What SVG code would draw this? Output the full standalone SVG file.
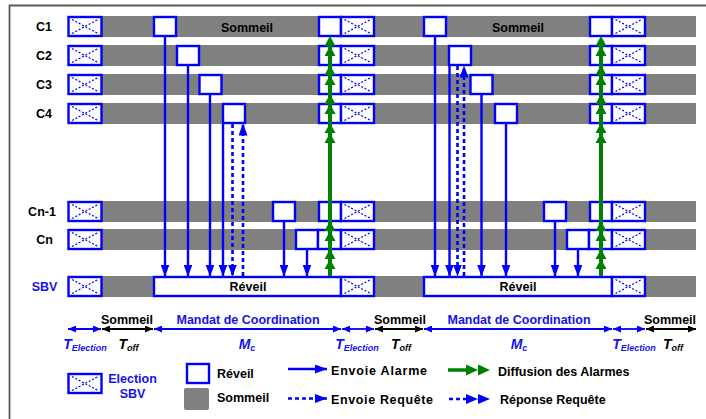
<svg xmlns="http://www.w3.org/2000/svg" xmlns:xlink="http://www.w3.org/1999/xlink" width="706" height="419" viewBox="0 0 706 419">
<style>
.band{fill:#808080}
.wk{fill:#fff;stroke:#0000ff;stroke-width:2.4}
.xl{fill:none;stroke:#0000ff;stroke-width:1.2;stroke-dasharray:2 1.8}
.t{font-family:"Liberation Sans",Arial,sans-serif;font-weight:bold;font-size:12.5px;fill:#000}
.tb{fill:#1414e6}
.ti{font-style:italic}
.al{stroke:#0000ff;stroke-width:2.4;fill:none}
.ad{stroke:#0000ff;stroke-width:2.6;fill:none;stroke-dasharray:4 3}
.gl{stroke:#008000;stroke-width:4;fill:none}
.tlb{stroke:#0000ff;stroke-width:1.8;fill:none}
.tlk{stroke:#000;stroke-width:1.8;fill:none}
</style>
<defs>
<marker id="ab" markerUnits="userSpaceOnUse" markerWidth="12" markerHeight="9" refX="12" refY="4.5" orient="auto" viewBox="0 0 12 9"><path d="M0,0 L12,4.5 L0,9 z" fill="#0000ff"/></marker>
<marker id="tb" markerUnits="userSpaceOnUse" markerWidth="8" markerHeight="7" refX="8" refY="3.5" orient="auto-start-reverse" viewBox="0 0 8 7"><path d="M0,0 L8,3.5 L0,7 z" fill="#0000ff"/></marker>
<marker id="tk" markerUnits="userSpaceOnUse" markerWidth="8" markerHeight="7" refX="8" refY="3.5" orient="auto-start-reverse" viewBox="0 0 8 7"><path d="M0,0 L8,3.5 L0,7 z" fill="#000"/></marker>
<g id="xb"><rect x="0" y="0" width="33" height="19" class="wk"/><path d="M3.5,2.5 L29.5,16.5 M3.5,16.5 L29.5,2.5" class="xl"/></g>
<g id="gh" fill="#008000"><path d="M-5.5,10 L0,0 L5.5,10 z M-5.5,20 L0,10 L5.5,20 z"/></g>
</defs>

<path d="M9.5,419 V5.5 H706" fill="none" stroke="#5a5a5a" stroke-width="1.8"/>

<g id="row-C1">
<text class="t" x="44" y="31" text-anchor="middle">C1</text>
<rect class="band" x="68" y="16" width="628" height="21"/>
<use xlink:href="#xb" x="68.5" y="17"/>
<rect class="wk" x="154" y="17" width="22" height="19"/>
<rect class="wk" x="319" y="17" width="22" height="19"/>
<use xlink:href="#xb" x="341" y="17"/>
<rect class="wk" x="424" y="17" width="22" height="19"/>
<rect class="wk" x="590" y="17" width="22" height="19"/>
<use xlink:href="#xb" x="612" y="17"/>
<text class="t" x="247" y="31.5" text-anchor="middle">Sommeil</text>
<text class="t" x="518" y="31.5" text-anchor="middle">Sommeil</text>
</g>

<g id="row-C2">
<text class="t" x="44" y="60" text-anchor="middle">C2</text>
<rect class="band" x="68" y="45" width="628" height="21"/>
<use xlink:href="#xb" x="68.5" y="46"/>
<rect class="wk" x="177" y="46" width="22" height="19"/>
<rect class="wk" x="319" y="46" width="22" height="19"/>
<use xlink:href="#xb" x="341" y="46"/>
<rect class="wk" x="449" y="46" width="22" height="19"/>
<rect class="wk" x="590" y="46" width="22" height="19"/>
<use xlink:href="#xb" x="612" y="46"/>
</g>

<g id="row-C3">
<text class="t" x="44" y="89" text-anchor="middle">C3</text>
<rect class="band" x="68" y="74" width="628" height="21"/>
<use xlink:href="#xb" x="68.5" y="75"/>
<rect class="wk" x="199.5" y="75" width="22" height="19"/>
<rect class="wk" x="319" y="75" width="22" height="19"/>
<use xlink:href="#xb" x="341" y="75"/>
<rect class="wk" x="470.5" y="75" width="22" height="19"/>
<rect class="wk" x="590" y="75" width="22" height="19"/>
<use xlink:href="#xb" x="612" y="75"/>
</g>

<g id="row-C4">
<text class="t" x="44" y="118" text-anchor="middle">C4</text>
<rect class="band" x="68" y="103" width="628" height="21"/>
<use xlink:href="#xb" x="68.5" y="104"/>
<rect class="wk" x="223" y="104" width="22" height="19"/>
<rect class="wk" x="319" y="104" width="22" height="19"/>
<use xlink:href="#xb" x="341" y="104"/>
<rect class="wk" x="495" y="104" width="22" height="19"/>
<rect class="wk" x="590" y="104" width="22" height="19"/>
<use xlink:href="#xb" x="612" y="104"/>
</g>

<g id="row-Cn-1">
<text class="t" x="42" y="216" text-anchor="middle">Cn-1</text>
<rect class="band" x="68" y="201" width="628" height="21"/>
<use xlink:href="#xb" x="68.5" y="202"/>
<rect class="wk" x="273" y="202" width="22" height="19"/>
<rect class="wk" x="319" y="202" width="22" height="19"/>
<use xlink:href="#xb" x="341" y="202"/>
<rect class="wk" x="544" y="202" width="22" height="19"/>
<rect class="wk" x="590" y="202" width="22" height="19"/>
<use xlink:href="#xb" x="612" y="202"/>
</g>

<g id="row-Cn">
<text class="t" x="44.5" y="244" text-anchor="middle">Cn</text>
<rect class="band" x="68" y="229" width="628" height="21"/>
<use xlink:href="#xb" x="68.5" y="230"/>
<rect class="wk" x="296" y="230" width="22" height="19"/>
<rect class="wk" x="318" y="230" width="23" height="19"/>
<use xlink:href="#xb" x="341" y="230"/>
<rect class="wk" x="567" y="230" width="22" height="19"/>
<rect class="wk" x="589" y="230" width="23" height="19"/>
<use xlink:href="#xb" x="612" y="230"/>
</g>

<g id="row-SBV">
<text class="t tb" x="44.5" y="291" text-anchor="middle">SBV</text>
<rect class="band" x="68" y="276" width="628" height="21"/>
<use xlink:href="#xb" x="68.5" y="277"/>
<rect class="wk" x="154" y="277" width="187" height="19"/>
<use xlink:href="#xb" x="341" y="277"/>
<rect class="wk" x="424" y="277" width="188" height="19"/>
<use xlink:href="#xb" x="612" y="277"/>
<text class="t" x="248" y="290.5" text-anchor="middle">Réveil</text>
<text class="t" x="518" y="290.5" text-anchor="middle">Réveil</text>
</g>

<g id="connectors">
<line class="al" x1="165" y1="36" x2="165" y2="276.5" marker-end="url(#ab)"/>
<line class="al" x1="188" y1="65" x2="188" y2="276.5" marker-end="url(#ab)"/>
<line class="al" x1="210" y1="94" x2="210" y2="276.5" marker-end="url(#ab)"/>
<line class="al" x1="223" y1="123" x2="223" y2="276.5" marker-end="url(#ab)"/>
<line class="ad" x1="232.5" y1="124" x2="232.5" y2="276.5" marker-end="url(#ab)"/>
<line class="ad" x1="243" y1="276" x2="243" y2="123.5" marker-end="url(#ab)"/>
<line class="al" x1="284" y1="221" x2="284" y2="276.5" marker-end="url(#ab)"/>
<line class="al" x1="307" y1="249" x2="307" y2="276.5" marker-end="url(#ab)"/>
<line class="gl" x1="330" y1="276" x2="330" y2="40"/>
<use xlink:href="#gh" x="330" y="36"/>
<use xlink:href="#gh" x="330" y="65"/>
<use xlink:href="#gh" x="330" y="94"/>
<use xlink:href="#gh" x="330" y="123"/>
<use xlink:href="#gh" x="330" y="221"/>
<use xlink:href="#gh" x="330" y="249"/>

<line class="al" x1="435" y1="36" x2="435" y2="276.5" marker-end="url(#ab)"/>
<line class="al" x1="449.5" y1="65" x2="449.5" y2="276.5" marker-end="url(#ab)"/>
<line class="ad" x1="457.5" y1="66" x2="457.5" y2="276.5" marker-end="url(#ab)"/>
<line class="ad" x1="464" y1="276" x2="464" y2="65.5" marker-end="url(#ab)"/>
<line class="al" x1="481.5" y1="94" x2="481.5" y2="276.5" marker-end="url(#ab)"/>
<line class="al" x1="506" y1="123" x2="506" y2="276.5" marker-end="url(#ab)"/>
<line class="al" x1="555" y1="221" x2="555" y2="276.5" marker-end="url(#ab)"/>
<line class="al" x1="578" y1="249" x2="578" y2="276.5" marker-end="url(#ab)"/>
<line class="gl" x1="601" y1="276" x2="601" y2="40"/>
<use xlink:href="#gh" x="601" y="36"/>
<use xlink:href="#gh" x="601" y="65"/>
<use xlink:href="#gh" x="601" y="94"/>
<use xlink:href="#gh" x="601" y="123"/>
<use xlink:href="#gh" x="601" y="221"/>
<use xlink:href="#gh" x="601" y="249"/>
</g>

<g id="timeline">
<line class="tlb" x1="68" y1="329" x2="101" y2="329" marker-start="url(#tb)" marker-end="url(#tb)"/>
<line class="tlk" x1="102" y1="329" x2="153" y2="329" marker-start="url(#tk)" marker-end="url(#tk)"/>
<line class="tlb" x1="154" y1="329" x2="341" y2="329" marker-start="url(#tb)" marker-end="url(#tb)"/>
<line class="tlb" x1="342" y1="329" x2="374" y2="329" marker-start="url(#tb)" marker-end="url(#tb)"/>
<line class="tlk" x1="375" y1="329" x2="423" y2="329" marker-start="url(#tk)" marker-end="url(#tk)"/>
<line class="tlb" x1="424" y1="329" x2="612" y2="329" marker-start="url(#tb)" marker-end="url(#tb)"/>
<line class="tlb" x1="613" y1="329" x2="645" y2="329" marker-start="url(#tb)" marker-end="url(#tb)"/>
<line class="tlk" x1="646" y1="329" x2="696" y2="329" marker-start="url(#tk)" marker-end="url(#tk)"/>
<text class="t" x="127" y="324" text-anchor="middle">Sommeil</text>
<text class="t tb" x="248" y="323.5" text-anchor="middle">Mandat de Coordination</text>
<text class="t" x="400" y="324" text-anchor="middle">Sommeil</text>
<text class="t tb" x="519" y="323.5" text-anchor="middle">Mandat de Coordination</text>
<text class="t" x="670" y="324" text-anchor="middle">Sommeil</text>
<text class="t tb ti" x="85" y="349" text-anchor="middle"><tspan font-size="14">T</tspan><tspan dy="1.5" font-size="9">Election</tspan></text>
<text class="t ti" x="128.5" y="349" text-anchor="middle"><tspan font-size="14">T</tspan><tspan dy="1.5" font-size="9">off</tspan></text>
<text class="t tb ti" x="247" y="349" text-anchor="middle"><tspan font-size="14">M</tspan><tspan dy="1.5" font-size="9">c</tspan></text>
<text class="t tb ti" x="357" y="349" text-anchor="middle"><tspan font-size="14">T</tspan><tspan dy="1.5" font-size="9">Election</tspan></text>
<text class="t ti" x="401" y="349" text-anchor="middle"><tspan font-size="14">T</tspan><tspan dy="1.5" font-size="9">off</tspan></text>
<text class="t tb ti" x="519" y="349" text-anchor="middle"><tspan font-size="14">M</tspan><tspan dy="1.5" font-size="9">c</tspan></text>
<text class="t tb ti" x="634" y="349" text-anchor="middle"><tspan font-size="14">T</tspan><tspan dy="1.5" font-size="9">Election</tspan></text>
<text class="t ti" x="673" y="349" text-anchor="middle"><tspan font-size="14">T</tspan><tspan dy="1.5" font-size="9">off</tspan></text>
</g>

<g id="legend">
<use xlink:href="#xb" x="68.5" y="374"/>
<text class="t tb" x="132.5" y="383" text-anchor="middle">Election</text>
<text class="t tb" x="132.5" y="398" text-anchor="middle">SBV</text>
<rect class="wk" x="187" y="364" width="22" height="19"/>
<text class="t" x="217" y="378">Réveil</text>
<rect x="184" y="388" width="25" height="22" rx="2" class="band"/>
<text class="t" x="217" y="401.5">Sommeil</text>
<line class="al" x1="288" y1="369" x2="327" y2="369" marker-end="url(#ab)"/>
<text class="t" x="331" y="375" textLength="96" lengthAdjust="spacing">Envoie Alarme</text>
<line class="ad" x1="288" y1="398.5" x2="327" y2="398.5" marker-end="url(#ab)"/>
<text class="t" x="331" y="403.5" textLength="102" lengthAdjust="spacing">Envoie Requête</text>
<line x1="448" y1="370" x2="468" y2="370" stroke="#008000" stroke-width="3.5"/>
<path d="M466,364.5 L478,370 L466,375.5 z M478,364.5 L490,370 L478,375.5 z" fill="#008000"/>
<text class="t" x="498" y="375.5">Diffusion des Alarmes</text>
<line x1="449" y1="399" x2="466" y2="399" stroke="#0000ff" stroke-width="2.6" stroke-dasharray="4 3"/>
<path d="M466,394 L478,399 L466,404 z M478,394 L490,399 L478,404 z" fill="#0000ff"/>
<text class="t" x="500" y="403.5">Réponse Requête</text>
</g>
</svg>
